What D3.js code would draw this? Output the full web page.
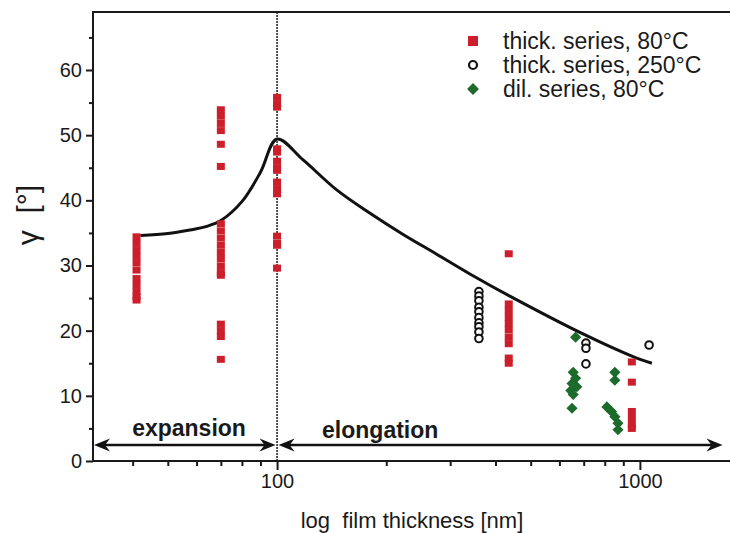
<!DOCTYPE html>
<html>
<head>
<meta charset="utf-8">
<script src="https://cdn.jsdelivr.net/npm/d3@7"></script>
<style>
body { margin: 0; background: #fff; }
text { font-family: "Liberation Sans", Arial, sans-serif; fill: #1a1a1a; }
</style>
</head>
<body>
<svg class="chart" width="730" height="533"></svg>
<script>
// thickness series annealed at 80°C (red squares), one column per film thickness
var thick80X = [41, 70, 100, 435, 950];
var thick80Y = [
	[34.4, 33.4, 32.4, 31.4, 30.4, 29.3, 28.0, 27.0, 26.0, 25.2, 24.7],
	[53.9, 52.9, 51.8, 50.7, 48.6, 45.2, 36.4, 35.3, 34.2, 33.1, 32.0, 31.0, 29.9, 28.9, 28.5, 21.0, 20.0, 19.1, 15.6],
	[55.8, 54.8, 54.3, 47.9, 47.4, 46.0, 45.0, 44.6, 42.8, 41.8, 41.0, 34.5, 33.4, 33.1, 29.6],
	[31.8, 24.1, 23.1, 22.1, 21.1, 20.1, 19.0, 18.0, 15.8, 15.0],
	[15.2, 12.1, 7.6, 6.6, 5.6, 5.0]
];
// thickness series, 250°C (open circles)
var thick250X = [360, 710, 1060];
var thick250Y = [
	[26.0, 25.3, 24.6, 23.6, 22.9, 22.0, 21.2, 20.6, 19.8, 18.8],
	[18.1, 17.3, 14.9],
	[17.8]
];
// dilution series, 80°C (green diamonds)
var dilX = [665, 655, 665, 650, 670, 645, 655, 650, 853, 853, 811, 835, 853, 870, 870];
var dilY = [19.0, 13.6, 12.7, 11.9, 11.4, 10.8, 10.2, 8.1, 13.6, 12.4, 8.3, 7.6, 6.8, 5.8, 4.8];

// guide curve
var fitX = [42, 50, 57, 64, 70, 80, 90, 100, 118, 146, 180, 222, 276, 340, 438, 697, 950, 1079];
var fitY = [34.6, 34.9, 35.4, 36.0, 36.9, 39.8, 44.3, 49.4, 46.2, 41.6, 38.05, 34.8, 31.7, 28.7, 25.3, 19.5, 16.1, 15.0];

var yMajor = [0, 10, 20, 30, 40, 50, 60];
var yMinor = [5, 15, 25, 35, 45, 55, 65];
var xMajor = [100, 1000];
var xMinor = [40, 50, 60, 70, 80, 90, 200, 300, 400, 500, 600, 700, 800, 900];

var legendLabels = ["thick. series, 80°C", "thick. series, 250°C", "dil. series, 80°C"];

var red = "#cc1f2b";
var green = "#1c6b2c";
var ink = "#1a1a1a";

var lmargin = 93;
var tmargin = 12;
var frameWidth = 730;
var axisY = 461;

var xScale = d3.scaleLog().domain([31.1, 1760]).range([lmargin, 729]);
var yScale = d3.scaleLinear().domain([0, 68.9]).range([axisY, tmargin]);

var svg = d3.select(".chart");

// vertical dotted divider at 100 nm
svg.append("line")
	.attr("x1", xScale(100)).attr("x2", xScale(100))
	.attr("y1", tmargin).attr("y2", axisY)
	.attr("stroke", ink).attr("stroke-width", 1.5)
	.attr("stroke-dasharray", "2,1");

// axes
svg.append("g")
	.attr("transform", "translate(" + lmargin + ",0)")
	.call(d3.axisLeft(yScale).tickValues(yMajor).tickSize(7).tickPadding(4))
	.call(function(g) { g.select(".domain").remove(); });
svg.append("g")
	.attr("transform", "translate(" + lmargin + ",0)")
	.call(d3.axisLeft(yScale).tickValues(yMinor).tickSize(4).tickFormat(""))
	.call(function(g) { g.select(".domain").remove(); });
svg.append("g")
	.attr("transform", "translate(0," + axisY + ")")
	.call(d3.axisBottom(xScale).tickValues(xMajor).tickSize(9).tickPadding(4).tickFormat(d3.format("d")))
	.call(function(g) { g.select(".domain").remove(); });
svg.append("g")
	.attr("transform", "translate(0," + axisY + ")")
	.call(d3.axisBottom(xScale).tickValues(xMinor).tickSize(5).tickFormat(""))
	.call(function(g) { g.select(".domain").remove(); });

svg.selectAll(".tick line").attr("stroke", ink).attr("stroke-width", 2);
svg.selectAll(".tick text").style("font-size", "20px").attr("fill", ink);

// frame lines
svg.append("path")
	.attr("d", "M" + frameWidth + "," + tmargin + "H" + lmargin + "V" + axisY + "H" + frameWidth)
	.attr("fill", "none").attr("stroke", ink).attr("stroke-width", 2);

// curve
var line = d3.line()
	.x(function(d) { return xScale(d[0]); })
	.y(function(d) { return yScale(d[1]); })
	.curve(d3.curveCatmullRom.alpha(0.5));
svg.append("path")
	.datum(fitX.map(function(v, i) { return [v, fitY[i]]; }))
	.attr("d", line)
	.attr("fill", "none").attr("stroke", "#111").attr("stroke-width", 3);

// red squares
var redPts = [];
thick80X.forEach(function(v, i) {
	thick80Y[i].forEach(function(g) { redPts.push([v, g]); });
});
svg.append("g").selectAll("rect").data(redPts)
	.enter().append("rect")
	.attr("x", function(d) { return xScale(d[0]) - 4; })
	.attr("y", function(d) { return yScale(d[1]) - 3.5; })
	.attr("width", 8).attr("height", 7)
	.attr("fill", red);

// open circles
var circPts = [];
thick250X.forEach(function(v, i) {
	thick250Y[i].forEach(function(g) { circPts.push([v, g]); });
});
svg.append("g").selectAll("circle").data(circPts)
	.enter().append("circle")
	.attr("cx", function(d) { return xScale(d[0]); })
	.attr("cy", function(d) { return yScale(d[1]); })
	.attr("r", 3.8)
	.attr("fill", "#fff").attr("stroke", "#111").attr("stroke-width", 2);

// green diamonds
var diamond = d3.symbol().type(d3.symbolSquare).size(62);
svg.append("g").selectAll("path").data(dilX)
	.enter().append("path")
	.attr("d", diamond)
	.attr("transform", function(d, i) {
		return "translate(" + xScale(d) + "," + yScale(dilY[i]) + ") rotate(45)";
	})
	.attr("fill", green);

// double arrows
var arrowY = yScale(2.45);
function arrowHead(xt, dir) {
	return "M" + xt + "," + arrowY +
		"L" + (xt - dir * 16) + "," + (arrowY - 6.5) +
		"L" + (xt - dir * 11) + "," + arrowY +
		"L" + (xt - dir * 16) + "," + (arrowY + 6.5) + "Z";
}
var segs = [[xScale.domain()[0], 100], [100, 1700]];
segs.forEach(function(s) {
	var a = xScale(s[0]) + 1, b = xScale(s[1]) - 1;
	if (s[1] == 100) b = xScale(100) - 1.5;
	if (s[0] == 100) a = xScale(100) + 1.5;
	svg.append("line")
		.attr("x1", a + 8).attr("x2", b - 8)
		.attr("y1", arrowY).attr("y2", arrowY)
		.attr("stroke", "#111").attr("stroke-width", 2.5);
	svg.append("path").attr("d", arrowHead(a, -1)).attr("fill", "#111");
	svg.append("path").attr("d", arrowHead(b, 1)).attr("fill", "#111");
});

svg.append("text")
	.attr("x", (xScale.range()[0] + xScale(100)) / 2 + 4)
	.attr("y", 436)
	.style("text-anchor", "middle")
	.style("font-size", "23px").style("font-weight", "bold")
	.text("expansion");
svg.append("text")
	.attr("x", xScale(100) + 45)
	.attr("y", 438)
	.style("font-size", "23px").style("font-weight", "bold")
	.text("elongation");

// legend
var legY = [41, 65, 89];
var lg = svg.append("g");
lg.append("rect").attr("x", 468).attr("y", legY[0] - 5).attr("width", 10).attr("height", 10).attr("fill", red);
lg.append("circle").attr("cx", 473).attr("cy", legY[1]).attr("r", 4)
	.attr("fill", "#fff").attr("stroke", "#111").attr("stroke-width", 2.2);
lg.append("path").attr("d", d3.symbol().type(d3.symbolSquare).size(70))
	.attr("transform", "translate(473," + legY[2] + ") rotate(45)").attr("fill", green);
lg.selectAll("text").data(legendLabels)
	.enter().append("text")
	.attr("x", 503)
	.attr("y", function(d, i) { return legY[i] + 8; })
	.style("font-size", "23px")
	.text(function(d) { return d; });

// axis titles
svg.append("text")
	.attr("x", 412).attr("y", 528)
	.style("text-anchor", "middle")
	.style("font-size", "22px")
	.style("white-space", "pre")
	.text("log  film thickness [nm]");

svg.append("text")
	.attr("transform", "translate(38,215) rotate(-90)")
	.style("text-anchor", "middle")
	.style("font-size", "30px")
	.style("white-space", "pre")
	.text("γ  [°]");
</script>
</body>
</html>
